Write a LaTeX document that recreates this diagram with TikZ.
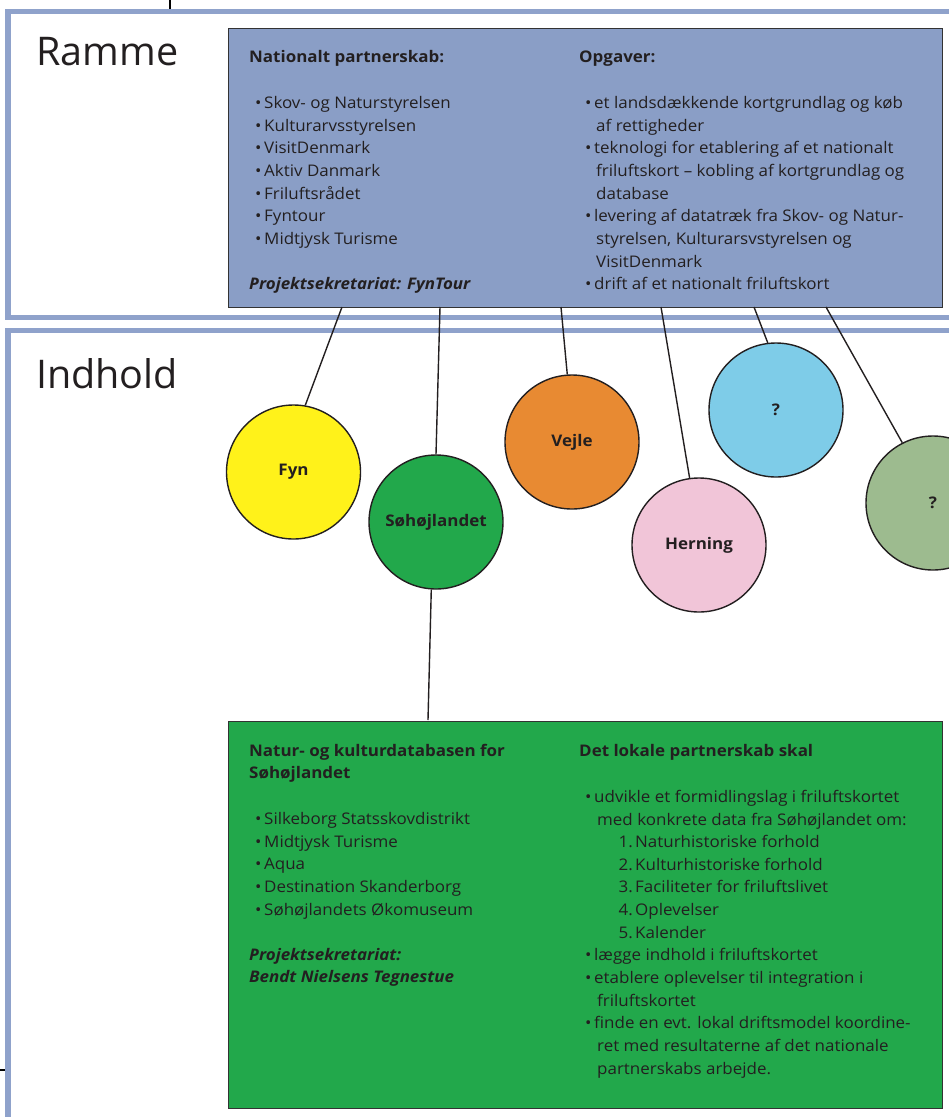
\documentclass[tikz,border=0pt]{standalone}
\usepackage{fontspec}
\setmainfont[FakeStretch=1.06]{Open Sans}
\newfontfamily\bigfont{Open Sans}
\definecolor{band}{HTML}{8FA2CB}
\definecolor{bluebox}{HTML}{8A9EC6}
\definecolor{greenbox}{HTML}{22A84B}
\definecolor{ink}{HTML}{231F20}
\definecolor{edge}{HTML}{333333}
\definecolor{cyellow}{HTML}{FFF21A}
\definecolor{corange}{HTML}{E88A32}
\definecolor{cpink}{HTML}{F1C5D8}
\definecolor{cblue}{HTML}{7ECCE8}
\definecolor{csage}{HTML}{9DBB8F}
\newcounter{tn}
\newcommand\tline[3]{\stepcounter{tn}\node[tl] (t\arabic{tn}) at (#1,#2) {#3};}
\newcommand\bline[3]{\stepcounter{tn}\node[tl] (t\arabic{tn}) at (#1,#2) {\textbullet};\stepcounter{tn}\node[tl] (t\arabic{tn}) at (#1+9,#2) {#3};}
\newcommand\nline[4]{\stepcounter{tn}\node[tl,anchor=base east] (t\arabic{tn}) at (#1,#2) {#3};\stepcounter{tn}\node[tl] (t\arabic{tn}) at (#1+2,#2) {#4};}
\begin{document}
\begin{tikzpicture}[x=1pt,y=-1pt,
  tl/.style={anchor=base west,inner sep=0pt,text=ink,font=\fontsize{16}{19}\selectfont},
  hd/.style={tl,font=\fontsize{16}{19}\selectfont\bfseries},
  hdi/.style={tl,font=\fontsize{16}{19}\selectfont\bfseries\itshape},
  big/.style={tl,font=\bigfont\fontsize{39.5}{46}\selectfont},
  frame/.style={draw=band,line width=5.5pt},
  panel/.style={draw=edge,line width=1.4pt},
  disc/.style={circle,draw=ink,line width=1.4pt,minimum size=134pt,inner sep=0pt,text=ink,font=\fontsize{16}{19}\selectfont\bfseries},
  link/.style={draw=ink,line width=1.4pt}]
\useasboundingbox (0,0) rectangle (949,1117);
\begin{scope}
\clip (0,0) rectangle (949,1117);
\draw[frame] (8,11.5) rectangle (980,317.5);
\draw[frame] (8,330.5) rectangle (980,1150);
\end{scope}
\coordinate (tk1a) at (170,0); \coordinate (tk1b) at (170,9);
\draw[line width=1.4pt] (tk1a) -- (tk1b);
\coordinate (tk2a) at (0,1070); \coordinate (tk2b) at (5,1070);
\draw[line width=1.4pt] (tk2a) -- (tk2b);
\node[big] (ramme) at (36,65) {Ramme};
\node[big] (indhold) at (36,388) {Indhold};
% top panel
\node[panel,fill=bluebox,anchor=north west,minimum width=714pt,minimum height=279pt,inner sep=0pt] (top) at (227.5,27.5) {};
\node[hd] (h1) at (249,62) {Nationalt partnerskab:};
\bline{255}{108}{Skov- og Naturstyrelsen}
\bline{255}{131}{Kulturarvsstyrelsen}
\bline{255}{153}{VisitDenmark}
\bline{255}{176}{Aktiv Danmark}
\bline{255}{199}{Friluftsrådet}
\bline{255}{221}{Fyntour}
\bline{255}{244}{Midtjysk Turisme}
\node[hdi] (h2) at (249,289) {Projektsekretariat: FynTour};
\node[hd] (h3) at (579,62) {Opgaver:};
\bline{585}{108}{et landsdækkende kortgrundlag og køb}
\tline{596}{131}{af rettigheder}
\bline{585}{153}{teknologi for etablering af et nationalt}
\tline{596}{176}{friluftskort – kobling af kortgrundlag og}
\tline{596}{199}{database}
\bline{585}{221}{levering af datatræk fra Skov- og Natur-}
\tline{596}{244}{styrelsen, Kulturarsvstyrelsen og}
\tline{596}{267}{VisitDenmark}
\bline{585}{289}{drift af et nationalt friluftskort}
% bottom panel
\node[panel,fill=greenbox,anchor=north west,minimum width=714pt,minimum height=387pt,inner sep=0pt] (bot) at (227.5,720.5) {};
\node[hd] (h4) at (249,756) {Natur- og kulturdatabasen for};
\node[hd] (h5) at (249,778) {Søhøjlandet};
\bline{255}{824}{Silkeborg Statsskovdistrikt}
\bline{255}{847}{Midtjysk Turisme}
\bline{255}{869}{Aqua}
\bline{255}{892}{Destination Skanderborg}
\bline{255}{915}{Søhøjlandets Økomuseum}
\node[hdi] (h6) at (249,960) {Projektsekretariat:};
\node[hdi] (h7) at (249,982) {Bendt Nielsens Tegnestue};
\node[hd] (h8) at (579,756) {Det lokale partnerskab skal};
\bline{585}{802}{udvikle et formidlingslag i friluftskortet}
\tline{597}{825}{med konkrete data fra Søhøjlandet om:}
\nline{633}{847}{1.}{Naturhistoriske forhold}
\nline{633}{870}{2.}{Kulturhistoriske forhold}
\nline{633}{892}{3.}{Faciliteter for friluftslivet}
\nline{633}{915}{4.}{Oplevelser}
\nline{633}{938}{5.}{Kalender}
\bline{585}{960}{lægge indhold i friluftskortet}
\bline{585}{983}{etablere oplevelser til integration i}
\tline{597}{1006}{friluftskortet}
\bline{585}{1028}{finde en evt. lokal driftsmodel koordine-}
\tline{597}{1051}{ret med resultaterne af det nationale}
\tline{597}{1074}{partnerskabs arbejde.}
% circles
\node[disc,fill=cyellow] (fyn) at (293.5,472) {Fyn};
\node[disc,fill=greenbox] (soh) at (436,522) {Søhøjlandet};
\node[disc,fill=corange] (vejle) at (572,442) {Vejle};
\node[disc,fill=cpink] (hern) at (699,545) {Herning};
\node[disc,fill=cblue] (q1) at (776,410) {?};
\node[disc,fill=csage] (q2) at (933,503) {?};
% connectors
\coordinate (p1) at (342,307);
\coordinate (p2) at (440,307);
\coordinate (p3) at (561,307);
\coordinate (p4) at (661,307);
\coordinate (p5) at (754,307);
\coordinate (p6) at (826,307);
\coordinate (p7) at (428,720);
\draw[link] (p1) -- (fyn.80);
\draw[link] (p2) -- (soh.90);
\draw[link] (p3) -- (vejle.94);
\draw[link] (p4) -- (hern.98.6);
\draw[link] (p5) -- (q1.97);
\draw[link] (p6) -- (q2.117);
\draw[link] (soh.266.5) -- (p7);
\end{tikzpicture}
\end{document}
